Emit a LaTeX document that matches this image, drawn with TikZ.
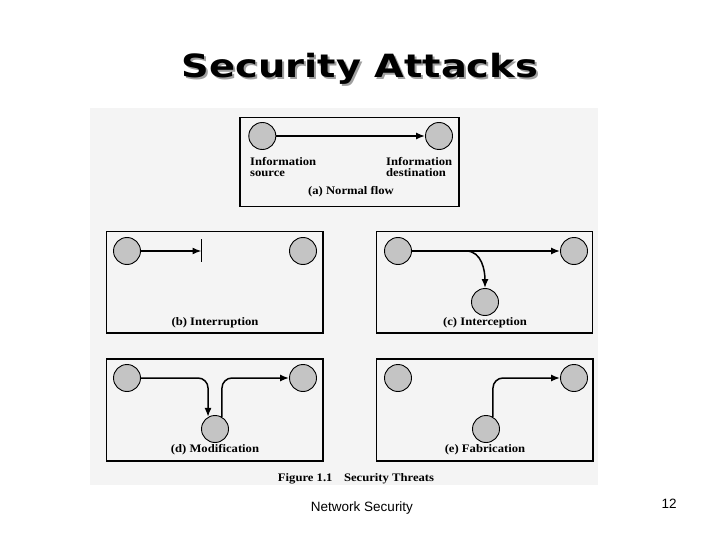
\documentclass[tikz,border=0pt]{standalone}
\usepackage{fontspec}
\setmainfont{Liberation Serif}
\newfontfamily\figfont[FakeStretch=1.1]{Liberation Serif}
\newfontfamily\titlefont[FakeStretch=1.2]{DejaVu Sans}
\newfontfamily\footfont{Liberation Sans}
\usetikzlibrary{arrows.meta}
\definecolor{bggray}{HTML}{F4F4F4}
\definecolor{circgray}{HTML}{C4C4C4}
\definecolor{shadowgray}{HTML}{A0A0A0}
\tikzset{
  circ/.style={circle, draw, fill=circgray, minimum size=27pt, inner sep=0pt, line width=0.9pt},
  flow/.style={line width=1.5pt, -{Latex[length=9pt,width=7pt]}},
  bendflow/.style={flow, rounded corners=10pt},
  panel/.style={draw, line width=1.2pt},
  lbl/.style={font=\figfont\bfseries\fontsize{11.5}{12}\selectfont, inner sep=0pt},
}
\begin{document}
\begin{tikzpicture}[x=1pt,y=-1pt]
\useasboundingbox (0,0) rectangle (720,540);
\fill[white] (0,0) rectangle (720,540);
\fill[bggray] (90,108) rectangle (598,485);
% title with shadow
\node[font=\titlefont\bfseries\fontsize{32}{36}\selectfont, anchor=base, inner sep=0pt] (title) at (360,78)
  {\rlap{\kern2pt\raisebox{-2pt}{\textcolor{shadowgray}{Security Attacks}}}Security Attacks};
% panel (a)
\draw[panel] (240,117.3) rectangle (459,206.7);
\node[circ] (a1) at (262.3,136) {};
\node[circ] (a2) at (439,136) {};
\draw[flow] (a1) -- (a2);
\node[lbl, anchor=base west] (asrc1) at (250,166) {Information};
\node[lbl, anchor=base west] (asrc2) at (250,177) {source};
\node[lbl, anchor=base west] (adst1) at (386,166) {Information};
\node[lbl, anchor=base west] (adst2) at (386,177) {destination};
\node[lbl, anchor=base] (acap) at (351,195) {(a) Normal flow};
% panel (b)
\draw[panel] (106.7,231.7) rectangle (323,333);
\node[circ] (b1) at (127,251) {};
\node[circ] (b2) at (303,251) {};
\coordinate (bx) at (201.5,251);
\coordinate (bt) at (201.5,239);
\coordinate (bb) at (201.5,262);
\draw[flow] (b1) -- (bx);
\draw[line width=1.5pt] (bt) -- (bb);
\node[lbl, anchor=base] (bcap) at (215,325) {(b) Interruption};
% panel (c)
\draw[panel] (376.7,231.7) rectangle (592.7,333);
\node[circ] (c1) at (398,251) {};
\node[circ] (c2) at (574,251) {};
\node[circ] (c3) at (485,302) {};
\draw[flow] (c1) -- (c2);
\coordinate (cb) at (466,251);
\draw[flow] (cb) to[out=0,in=90] (c3.north);
\node[lbl, anchor=base] (ccap) at (485,325) {(c) Interception};
% panel (d)
\draw[panel] (106.7,359) rectangle (323,461);
\node[circ] (d1) at (127,378) {};
\node[circ] (d2) at (303,378) {};
\node[circ] (d3) at (215,429) {};
\draw[bendflow] (d1) -| (d3.120);
\draw[bendflow] (d3.60) |- (d2);
\node[lbl, anchor=base] (dcap) at (215,452) {(d) Modification};
% panel (e)
\draw[panel] (376.7,359) rectangle (593,461);
\node[circ] (e1) at (398,378) {};
\node[circ] (e2) at (574,378) {};
\node[circ] (e3) at (486,429) {};
\draw[bendflow] (e3.60) |- (e2);
\node[lbl, anchor=base] (ecap) at (485,452) {(e) Fabrication};
% caption
\node[lbl, anchor=base] (figcap) at (356,481) {Figure 1.1\hspace{1em}Security Threats};
% footer
\node[font=\footfont\fontsize{13.5}{15}\selectfont, anchor=base, inner sep=0pt] (foot) at (362,511) {Network Security};
\node[font=\footfont\fontsize{13.5}{15}\selectfont, anchor=base, inner sep=0pt] (pnum) at (669,508.5) {12};
\end{tikzpicture}
\end{document}
